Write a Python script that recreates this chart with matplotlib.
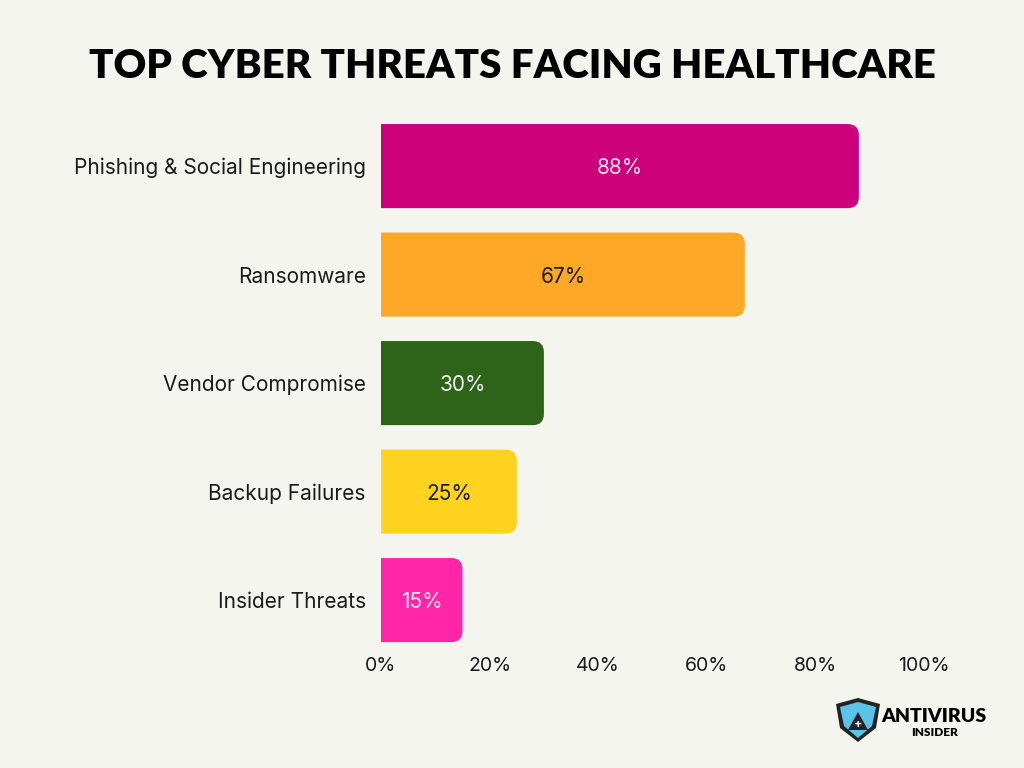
import matplotlib.pyplot as plt
from matplotlib.patches import FancyBboxPatch, Polygon

categories = ['Phishing & Social Engineering', 'Ransomware', 'Vendor Compromise',
              'Backup Failures', 'Insider Threats']
values = [88, 67, 30, 25, 15]
bar_colors = ['#CC007A', '#FFA726', '#2E631A', '#FFD31F', '#FF26A8']
label_colors = ['#FBE3F0', '#1A1A1A', '#F2F2F2', '#1A1A1A', '#FBE3F0']
xticks = [0, 20, 40, 60, 80, 100]
xtick_labels = ['0%', '20%', '40%', '60%', '80%', '100%']

bg = '#F5F5F0'
plt.rcParams['font.family'] = ['Inter', 'DejaVu Sans']

fig = plt.figure(figsize=(10.24, 7.68), dpi=100, facecolor=bg)
ax = fig.add_axes([381/1024, 0.148, 543/1024, 542.5/768])
ax.set_facecolor(bg)
ax.set_xlim(0, 100)
ax.set_ylim(4.5, -0.5)

bh = 0.775
px_x = 543/100.0
px_y = 542.5/5.0
r = 11.0
rx = r/px_x
ry = r/px_y
for i in range(len(values)):
    v = values[i]
    # start left of 0 so the left rounded corners get clipped away by the axes
    p = FancyBboxPatch((-3*rx, i-bh/2), v+3*rx, bh,
                       boxstyle='round,pad=0,rounding_size=%f' % rx,
                       mutation_aspect=ry/rx, fc=bar_colors[i], ec='none')
    ax.add_patch(p)
    ax.text(v/2, i+0.02, '%d%%' % v, ha='center', va='center', fontsize=15,
            color=label_colors[i])

ax.set_yticks(range(len(categories)))
ax.set_yticklabels(categories, fontsize=15, color='#1A1A1A')
ax.set_xticks(xticks)
ax.set_xticklabels(xtick_labels, fontsize=14, color='#1A1A1A')
ax.tick_params(axis='y', length=0, pad=11)
ax.tick_params(axis='x', length=0, pad=2)
for s in ax.spines.values():
    s.set_visible(False)

fig.text(0.5, 1-66/768, 'TOP CYBER THREATS FACING HEALTHCARE', ha='center', va='center',
         fontsize=29, fontweight='heavy', color='black', family=['Lato', 'DejaVu Sans'])

# logo
lax = fig.add_axes([834/1024, 1-742/768, 48/1024, 44/768])
lax.set_xlim(0, 48)
lax.set_ylim(0, 44)
lax.axis('off')
lax.add_patch(Polygon([(2, 38), (24, 44), (46, 38), (42, 14), (24, 0), (6, 14)],
                      fc='#222222', ec='none'))
lax.add_patch(Polygon([(6, 35), (24, 40), (42, 35), (38, 16), (24, 4), (10, 16)],
                      fc='#5BC3E8', ec='none'))
lax.add_patch(Polygon([(24, 30), (34, 12), (14, 12)], fc='#222222', ec='none'))
lax.text(24, 17, '+', ha='center', va='center', fontsize=9, fontweight='bold', color='white')
fig.text(934/1024, 1-716/768, 'ANTIVIRUS', ha='center', va='center', fontsize=14,
         fontweight='heavy', color='black', family=['Lato', 'DejaVu Sans'])
fig.text(934/1024, 1-732/768, 'INSIDER', ha='center', va='center', fontsize=8.5,
         fontweight='heavy', color='black', family=['Lato', 'DejaVu Sans'])

fig.savefig('out.png', dpi=100, facecolor=bg)
